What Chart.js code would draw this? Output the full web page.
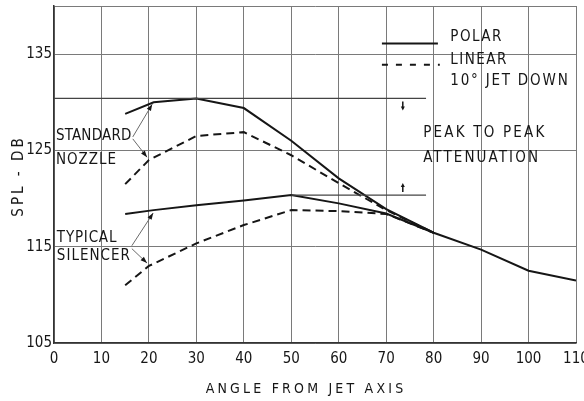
<!DOCTYPE html>
<html>
<head>
<meta charset="utf-8">
<style>
  html, body { margin: 0; padding: 0; background: #fff; }
  #chart { display: block; }
</style>
</head>
<body>
<canvas id="chart" width="584" height="401"></canvas>
<script src="https://cdn.jsdelivr.net/npm/chart.js"></script>
<script>
    // Angles (deg from jet axis) and SPL readings (dB)
    const polarAngles = [15, 21, 30, 40, 50, 60, 70, 80, 90, 100, 110];
    const linearAngles = [15, 20, 30, 40, 50, 60, 70, 80];

    const nozzlePolar = [128.8, 130.0, 130.4, 129.4, 126.0, 122.1, 118.9, 116.45, 114.7, 112.5, 111.5];
    const nozzleLinear = [121.5, 124.0, 126.5, 126.9, 124.5, 121.6, 118.8, 116.45];
    const silencerPolar = [118.4, 118.8, 119.3, 119.8, 120.36, 119.5, 118.45, 116.45];
    const silencerLinear = [111.0, 113.0, 115.35, 117.25, 118.8, 118.7, 118.4, 116.45];

    const xTicks = [0, 10, 20, 30, 40, 50, 60, 70, 80, 90, 100, 110];
    const yTicks = [105, 115, 125, 135, 140];

    const FONT = '"DejaVu Sans Condensed", "DejaVu Sans", sans-serif';
    const INK = '#161616';

    function pts(xs, ys) {
        return ys.map((y, i) => ({ x: xs[i], y: y }));
    }

    function series(data, dashed) {
        return {
            data: data,
            borderColor: INK,
            borderWidth: 2,
            borderDash: dashed ? [8, 5] : [],
            pointRadius: 0,
            tension: 0,
            fill: false
        };
    }

    // Labels, connectors, legend and peak-to-peak markers
    const notes = {
        id: 'notes',
        afterDatasetsDraw(chart) {
            const ctx = chart.ctx;
            const xs = chart.scales.x, ys = chart.scales.y;
            const X = v => xs.getPixelForValue(v);
            const Y = v => ys.getPixelForValue(v);

            ctx.save();
            ctx.fillStyle = INK;
            ctx.textBaseline = 'middle';
            ctx.textAlign = 'left';

            function text(str, x, y, size, spacing) {
                ctx.font = size + 'px ' + FONT;
                ctx.letterSpacing = (spacing || 0) + 'px';
                ctx.fillText(str, X(x), Y(y));
                ctx.letterSpacing = '0px';
            }
            function line(x1, y1, x2, y2, w, color, dash) {
                ctx.beginPath();
                ctx.setLineDash(dash || []);
                ctx.lineWidth = w;
                ctx.strokeStyle = color;
                ctx.moveTo(X(x1), Y(y1));
                ctx.lineTo(X(x2), Y(y2));
                ctx.stroke();
                ctx.setLineDash([]);
            }
            function arrow(x1, y1, x2, y2) {
                const ax = X(x1), ay = Y(y1), bx = X(x2), by = Y(y2);
                ctx.beginPath();
                ctx.lineWidth = 1;
                ctx.strokeStyle = '#6a6a6a';
                ctx.moveTo(ax, ay);
                ctx.lineTo(bx, by);
                ctx.stroke();
                const a = Math.atan2(by - ay, bx - ax);
                const len = 7, half = 0.35;
                ctx.beginPath();
                ctx.moveTo(bx, by);
                ctx.lineTo(bx - len * Math.cos(a - half), by - len * Math.sin(a - half));
                ctx.lineTo(bx - len * Math.cos(a + half), by - len * Math.sin(a + half));
                ctx.closePath();
                ctx.fill();
            }

            // curve labels
            text('STANDARD', 0.4, 126.5, 15, 0.2);
            text('NOZZLE', 0.4, 124.0, 15, 1);
            text('TYPICAL', 0.6, 115.9, 15, 0.8);
            text('SILENCER', 0.6, 114.0, 15, 1);
            arrow(16.6, 126.4, 20.7, 129.8);
            arrow(16.6, 126.2, 19.6, 124.3);
            arrow(16.4, 115.1, 20.9, 118.5);
            arrow(16.4, 114.8, 19.6, 113.3);

            // legend
            line(69.1, 136.1, 80.9, 136.1, 2, INK);
            line(69.1, 133.9, 81.3, 133.9, 2, INK, [6, 8]);
            text('POLAR', 83.5, 136.8, 15, 1.5);
            text('LINEAR', 83.5, 134.4, 15, 1.5);
            text('10\u00B0 JET DOWN', 83.5, 132.2, 15, 1.8);

            // peak-to-peak attenuation
            const top = Math.max(...nozzlePolar);
            const low = Math.max(...silencerPolar);
            line(0, top, 78.4, top, 1.2, '#444');
            line(50, low, 78.4, low, 1.2, '#444');
            const ax = X(73.5);
            ctx.lineWidth = 1.5;
            ctx.strokeStyle = INK;
            ctx.beginPath();
            ctx.moveTo(ax, Y(top) + 3); ctx.lineTo(ax, Y(top) + 10);
            ctx.moveTo(ax, Y(low) - 3); ctx.lineTo(ax, Y(low) - 10);
            ctx.stroke();
            ctx.beginPath();
            ctx.moveTo(ax - 2, Y(top) + 8); ctx.lineTo(ax + 2, Y(top) + 8); ctx.lineTo(ax, Y(top) + 12);
            ctx.closePath(); ctx.fill();
            ctx.beginPath();
            ctx.moveTo(ax - 2, Y(low) - 8); ctx.lineTo(ax + 2, Y(low) - 8); ctx.lineTo(ax, Y(low) - 12);
            ctx.closePath(); ctx.fill();
            text('PEAK TO PEAK', 77.8, 126.8, 15, 2.2);
            text('ATTENUATION', 77.8, 124.2, 15, 2.1);

            // axis titles
            ctx.font = '14px ' + FONT;
            ctx.letterSpacing = '3.2px';
            ctx.textAlign = 'center';
            ctx.fillText('ANGLE FROM JET AXIS', 306, 389);
            ctx.translate(19, 176);
            ctx.rotate(-Math.PI / 2);
            ctx.font = '15px ' + FONT;
            ctx.letterSpacing = '3px';
            ctx.fillText('SPL - DB', 0, 0);
            ctx.restore();
        }
    };

    const ctx = document.getElementById('chart').getContext('2d');
    new Chart(ctx, {
        type: 'line',
        data: {
            datasets: [
                series(pts(polarAngles, nozzlePolar), false),
                series(pts(linearAngles, nozzleLinear), true),
                series(pts(polarAngles, silencerPolar), false),
                series(pts(linearAngles, silencerLinear), true)
            ]
        },
        options: {
            responsive: false,
            animation: false,
            layout: { padding: { top: 6, right: 8, left: 0, bottom: 0 } },
            plugins: {
                legend: { display: false },
                tooltip: { enabled: false }
            },
            scales: {
                x: {
                    type: 'linear',
                    min: 0,
                    max: 110,
                    afterBuildTicks: s => { s.ticks = xTicks.map(v => ({ value: v })); },
                    afterFit: s => { s.height = 58; s.paddingLeft = 0; s.paddingRight = 0; },
                    grid: { color: '#7a7a7a', lineWidth: 1, drawTicks: false },
                    border: { color: '#333', width: 1.5 },
                    ticks: {
                        color: INK,
                        padding: 7,
                        maxRotation: 0,
                        font: { family: FONT, size: 15 }
                    }
                },
                y: {
                    min: 105,
                    max: 140,
                    afterBuildTicks: s => { s.ticks = yTicks.map(v => ({ value: v })); },
                    afterFit: s => { s.width = 54; s.paddingTop = 0; s.paddingBottom = 0; },
                    grid: { color: '#7a7a7a', lineWidth: 1, drawTicks: false },
                    border: { color: '#333', width: 1.5 },
                    ticks: {
                        color: INK,
                        padding: 2,
                        font: { family: FONT, size: 15 },
                        callback: v => (v === 140 ? '' : v)
                    }
                }
            }
        },
        plugins: [notes]
    });
</script>
</body>
</html>
